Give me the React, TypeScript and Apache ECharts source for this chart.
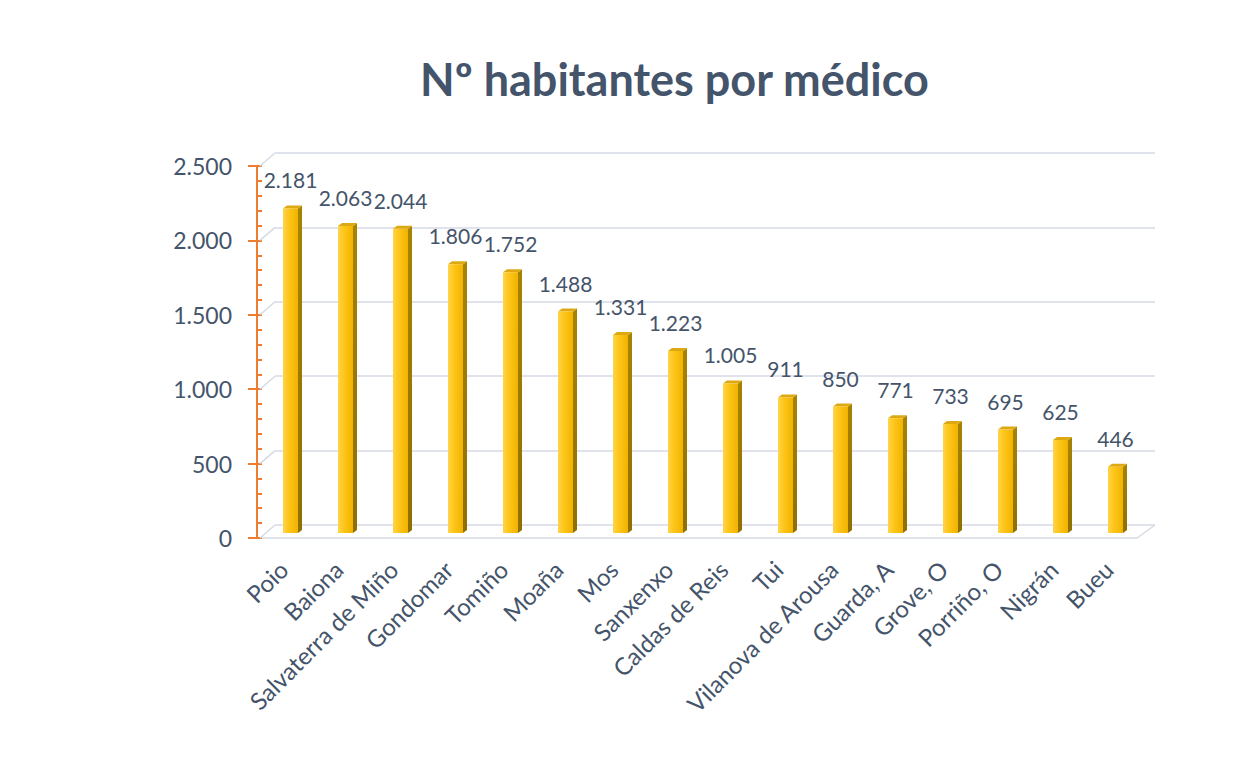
import React, { useEffect, useRef } from "react";
import * as echarts from "echarts";

const title = "Nº habitantes por médico";
const categories = [
  "Poio", "Baiona", "Salvaterra de Miño", "Gondomar", "Tomiño", "Moaña", "Mos", "Sanxenxo",
  "Caldas de Reis", "Tui", "Vilanova de Arousa", "Guarda, A", "Grove, O", "Porriño, O", "Nigrán", "Bueu",
];
const values = [2181, 2063, 2044, 1806, 1752, 1488, 1331, 1223, 1005, 911, 850, 771, 733, 695, 625, 446];
const yTicks = [0, 500, 1000, 1500, 2000, 2500];

const fmt = (v: number) => String(v).replace(/\B(?=(\d{3})+(?!\d))/g, ".");

const TEXT = "#44546A";
const GRID_COLOR = "#D6DAE4";
const ORANGE = "#ED7D31";
const FONT = "Lato";

export default function App() {
  const ref = useRef<HTMLDivElement>(null);

  useEffect(() => {
    if (!ref.current) return;
    const chart = echarts.init(ref.current, undefined, { renderer: "svg" });

    const frontGrad = new echarts.graphic.LinearGradient(0, 0, 1, 0, [
      { offset: 0, color: "#FFD44D" },
      { offset: 0.35, color: "#FFC71C" },
      { offset: 1, color: "#F0B300" },
    ]);
    const sideGrad = new echarts.graphic.LinearGradient(0, 0, 0, 1, [
      { offset: 0, color: "#A88300" },
      { offset: 1, color: "#8F6F00" },
    ]);

    const yMin = yTicks[0];
    const yMax = yTicks[yTicks.length - 1];
    const step = yTicks[1] - yTicks[0];

    const option: any = {
      animation: false,
      backgroundColor: "#ffffff",
      title: {
        text: title,
        left: 415,
        top: 51,
        textStyle: { fontFamily: FONT, fontWeight: "bold", fontSize: 45, color: TEXT },
      },
      grid: [
        { left: 263, right: 93, top: 166, bottom: 234 },
        { left: 275, right: 81, top: 153, bottom: 247 },
        { left: 258, right: 99, top: 166, bottom: 234 },
        { left: 263, right: 93, top: 161, bottom: 239 },
      ],
      xAxis: [
        {
          type: "category", gridIndex: 0, data: categories,
          axisLine: { show: false }, axisTick: { show: false },
          axisLabel: {
            rotate: 45, margin: 20, interval: 0, padding: [0, 10, 0, 0],
            fontFamily: FONT, fontSize: 24, color: TEXT,
          },
        },
        { type: "category", gridIndex: 1, data: categories, show: false },
        {
          type: "category", gridIndex: 2, data: categories,
          axisLine: { show: true, lineStyle: { color: GRID_COLOR, width: 1.5 } },
          axisTick: { show: false }, axisLabel: { show: false },
        },
        { type: "category", gridIndex: 3, data: categories, show: false },
      ],
      yAxis: [
        {
          type: "value", gridIndex: 0, position: "left", min: yMin, max: yMax, interval: step, offset: 6,
          axisLine: { show: true, lineStyle: { color: ORANGE, width: 2 } },
          axisTick: { show: true, length: 9, lineStyle: { color: ORANGE, width: 2 } },
          splitLine: { show: false },
          axisLabel: {
            margin: 25, padding: [8, 0, 0, 0], fontFamily: FONT, fontSize: 23, color: TEXT,
            formatter: (v: number) => fmt(v),
          },
        },
        {
          type: "value", gridIndex: 0, position: "left", min: yMin, max: yMax, interval: step, offset: 6,
          axisLine: { show: true, lineStyle: { color: ORANGE, width: 2 } },
          axisTick: { show: true, inside: true, length: 5, lineStyle: { color: ORANGE, width: 2 } },
          minorTick: { show: true, splitNumber: 5, length: 5, lineStyle: { color: ORANGE, width: 2 } },
          splitLine: { show: false },
          axisLabel: { show: false },
        },
        {
          type: "value", gridIndex: 1, position: "left", min: yMin, max: yMax, interval: step,
          axisLine: { show: false }, axisTick: { show: false }, axisLabel: { show: false },
          splitLine: { show: true, lineStyle: { color: GRID_COLOR, width: 1.5 } },
        },
        { type: "value", gridIndex: 2, position: "left", min: yMin, max: yMax, show: false, splitLine: { show: false } },
        { type: "value", gridIndex: 3, position: "left", min: yMin, max: yMax, show: false, splitLine: { show: false } },
      ],
      series: [
        {
          type: "custom",
          name: "connectors",
          xAxisIndex: 0,
          yAxisIndex: 0,
          silent: true,
          data: yTicks.map((v) => [0, v]),
          renderItem: (params: any, api: any) => {
            const v = api.value(1);
            const p = api.coord([0, v]);
            const cs = params.coordSys;
            const children: any[] = [
              {
                type: "line",
                shape: { x1: cs.x - 3, y1: p[1], x2: cs.x + 12, y2: p[1] - 13 },
                style: { stroke: GRID_COLOR, lineWidth: 1.5 },
              },
            ];
            if (v === 0) {
              children.push({
                type: "line",
                shape: { x1: cs.x + cs.width - 6, y1: p[1], x2: cs.x + cs.width + 12, y2: p[1] - 13 },
                style: { stroke: GRID_COLOR, lineWidth: 1.5 },
              });
            }
            return { type: "group", children };
          },
          z: 1,
        },
        {
          type: "custom",
          name: "Nº habitantes por médico",
          xAxisIndex: 3,
          yAxisIndex: 4,
          data: values.map((v, i) => [i, v]),
          renderItem: (params: any, api: any) => {
            const idx = api.value(0);
            const v = api.value(1);
            const top = api.coord([idx, v]);
            const base = api.coord([idx, 0]);
            const w = 15, d = 4, h = 3;
            const x0 = top[0] - w / 2;
            const x1 = top[0] + w / 2;
            return {
              type: "group",
              children: [
                {
                  type: "polygon",
                  shape: { points: [[x1, top[1]], [x1 + d, top[1] - h], [x1 + d, base[1] - h], [x1, base[1]]] },
                  style: { fill: sideGrad },
                },
                {
                  type: "polygon",
                  shape: { points: [[x0, top[1]], [x0 + d, top[1] - h], [x1 + d, top[1] - h], [x1, top[1]]] },
                  style: { fill: "#DDA912" },
                },
                {
                  type: "rect",
                  shape: { x: x0, y: top[1], width: w, height: base[1] - top[1] },
                  style: { fill: frontGrad },
                  textContent: {
                    style: { text: fmt(v), fill: TEXT, fontFamily: FONT, fontSize: 21 },
                  },
                  textConfig: { position: "top", distance: 18 },
                },
              ],
            };
          },
          z: 3,
        },
      ],
    };

    chart.setOption(option);
    return () => chart.dispose();
  }, []);

  return (
    <div
      ref={ref}
      style={{ position: "fixed", left: 0, top: 0, width: 1236, height: 772, background: "#fff" }}
    />
  );
}
